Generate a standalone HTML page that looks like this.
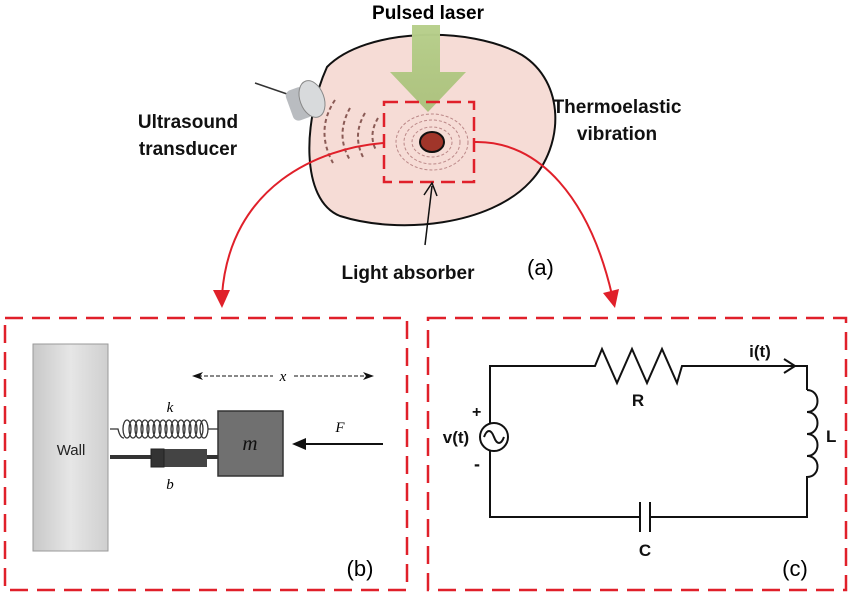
<html><body style="margin:0;background:#fff">
<svg width="850" height="595" viewBox="0 0 850 595" xmlns="http://www.w3.org/2000/svg" font-family="Liberation Sans, sans-serif">
<defs>
<linearGradient id="g" x1="0" y1="0" x2="0" y2="1"><stop offset="0" stop-color="#b9d08e"/><stop offset="1" stop-color="#9cbc6a" stop-opacity=".8"/></linearGradient>
<linearGradient id="w" x1="0" y1="0" x2="1" y2="0"><stop offset="0" stop-color="#c8c8c8"/><stop offset=".5" stop-color="#e6e6e6"/><stop offset="1" stop-color="#cfcfcf"/></linearGradient>
</defs>
<path d="M327,67 C365,28 470,25 522,55 C565,82 565,145 530,182 C490,225 400,235 340,216 C300,200 303,120 327,67 Z" fill="#f6dcd6" stroke="#111" stroke-width="2"/>
<path d="M412,25 H440 V72 H466 L428,112 L390,72 H412 Z" fill="url(#g)"/>
<text x="428" y="19" text-anchor="middle" font-weight="bold" font-size="19">Pulsed laser</text>
<g transform="translate(300,95)"><line x1="-45" y1="-12" x2="-10" y2="0" stroke="#333" stroke-width="1.5"/><rect x="-14" y="-8" width="20" height="32" rx="6" fill="#b9bcc0" transform="rotate(-20)"/><ellipse cx="12" cy="4" rx="12" ry="19" fill="#d8dadc" stroke="#888" transform="rotate(-20 12 4)"/></g>
<g fill="none" stroke="#8a5a55" stroke-width="2" stroke-dasharray="4 3">
<path d="M335,100 Q315,130 333,163"/><path d="M350,108 Q335,135 350,160"/><path d="M365,113 Q352,135 363,157"/><path d="M378,118 Q368,135 376,150"/>
</g>
<g fill="none" stroke="#b88" stroke-width="1" stroke-dasharray="3 2">
<ellipse cx="432" cy="142" rx="20" ry="15"/><ellipse cx="432" cy="142" rx="28" ry="22"/><ellipse cx="432" cy="142" rx="36" ry="28"/></g>
<ellipse cx="432" cy="142" rx="12" ry="10" fill="#a0352a" stroke="#111" stroke-width="2"/>
<rect x="384" y="102" width="90" height="80" fill="none" stroke="#e0202a" stroke-width="2.5" stroke-dasharray="14 7"/>
<line x1="425" y1="245" x2="432" y2="186" stroke="#111" stroke-width="1.5"/><path d="M424,195 L432,183 L437,196" fill="none" stroke="#111" stroke-width="1.5"/>
<path d="M383,143 C320,148 230,185 222,295" fill="none" stroke="#e0202a" stroke-width="2"/>
<path d="M213,290 L222,308 L230,290 Z" fill="#e0202a"/>
<path d="M474,142 C540,140 590,200 612,295" fill="none" stroke="#e0202a" stroke-width="2"/>
<path d="M603,293 L615,308 L619,289 Z" fill="#e0202a"/>
<g font-weight="bold" font-size="19" fill="#111">
<text x="188" y="128" text-anchor="middle">Ultrasound</text><text x="188" y="155" text-anchor="middle">transducer</text>
<text x="617" y="113" text-anchor="middle">Thermoelastic</text><text x="617" y="140" text-anchor="middle">vibration</text>
<text x="408" y="279" text-anchor="middle">Light absorber</text></g>
<text x="527" y="275" font-size="22">(a)</text>
<rect x="5" y="318" width="402" height="272" fill="none" stroke="#e0202a" stroke-width="2.5" stroke-dasharray="18 9"/>
<rect x="428" y="318" width="418" height="272" fill="none" stroke="#e0202a" stroke-width="2.5" stroke-dasharray="18 9"/>
<rect x="33" y="344" width="75" height="207" fill="url(#w)" stroke="#999"/>
<text x="71" y="455" text-anchor="middle" font-size="15" fill="#222">Wall</text>
<path d="M110,429 H118 Q120,438 124,438" fill="none" stroke="#333" stroke-width="1.3"/>
<g fill="none" stroke="#333" stroke-width="1.3">
<ellipse cx="127" cy="429" rx="4" ry="9"/><ellipse cx="133" cy="429" rx="4" ry="9"/><ellipse cx="139" cy="429" rx="4" ry="9"/><ellipse cx="145" cy="429" rx="4" ry="9"/><ellipse cx="151" cy="429" rx="4" ry="9"/><ellipse cx="157" cy="429" rx="4" ry="9"/><ellipse cx="163" cy="429" rx="4" ry="9"/><ellipse cx="169" cy="429" rx="4" ry="9"/><ellipse cx="175" cy="429" rx="4" ry="9"/><ellipse cx="181" cy="429" rx="4" ry="9"/><ellipse cx="187" cy="429" rx="4" ry="9"/><ellipse cx="193" cy="429" rx="4" ry="9"/><ellipse cx="199" cy="429" rx="4" ry="9"/><ellipse cx="204" cy="429" rx="4" ry="9"/>
<line x1="208" y1="429" x2="218" y2="429"/></g>
<line x1="110" y1="457" x2="218" y2="457" stroke="#333" stroke-width="4"/>
<rect x="151" y="449" width="56" height="18" fill="#444"/><rect x="151" y="449" width="13" height="18" fill="#333" stroke="#222"/>
<rect x="218" y="411" width="65" height="65" fill="#707070" stroke="#333" stroke-width="1.5"/>
<text x="250" y="450" text-anchor="middle" font-family="Liberation Serif, serif" font-style="italic" font-size="21" fill="#111">m</text>
<text x="170" y="412" text-anchor="middle" font-family="Liberation Serif, serif" font-style="italic" font-size="15">k</text>
<text x="170" y="489" text-anchor="middle" font-family="Liberation Serif, serif" font-style="italic" font-size="15">b</text>
<line x1="300" y1="444" x2="383" y2="444" stroke="#111" stroke-width="2"/><path d="M292,444 L306,438 L306,450 Z" fill="#111"/>
<text x="340" y="432" text-anchor="middle" font-family="Liberation Serif, serif" font-style="italic" font-size="15">F</text>
<line x1="198" y1="376" x2="273" y2="376" stroke="#111" stroke-dasharray="4 2"/><line x1="294" y1="376" x2="368" y2="376" stroke="#111" stroke-dasharray="4 2"/>
<path d="M192,376 L203,372 L200,376 L203,380 Z M374,376 L363,372 L366,376 L363,380 Z" fill="#111"/>
<text x="283" y="381" text-anchor="middle" font-family="Liberation Serif, serif" font-style="italic" font-size="15">x</text>
<text x="360" y="576" text-anchor="middle" font-size="22">(b)</text>
<g fill="none" stroke="#111" stroke-width="2">
<path d="M490,423 V366 H595 L602,349 L617,383 L632,349 L647,383 L662,349 L677,383 L682,366 H807 V390"/>
<path d="M807,390 c14,0 14,22 0,22 c14,0 14,22 0,22 c14,0 14,22 0,22 c14,0 14,21 0,21 V517 H650 M640,517 H490 V451"/>
<line x1="640" y1="502" x2="640" y2="532"/><line x1="650" y1="502" x2="650" y2="532"/>
<circle cx="494" cy="437" r="14"/><path d="M484,437 c3,-8 7,-8 10,0 c3,8 7,8 10,0"/>
<path d="M784,359 L795,366 L784,373"/>
</g>
<g font-weight="bold" font-size="17" fill="#111">
<text x="638" y="406" text-anchor="middle">R</text><text x="760" y="357" text-anchor="middle">i(t)</text>
<text x="826" y="442">L</text><text x="645" y="556" text-anchor="middle">C</text>
<text x="456" y="443" text-anchor="middle">v(t)</text><text x="472" y="417" font-size="16">+</text><text x="474" y="470" font-size="18">-</text></g>
<text x="795" y="576" text-anchor="middle" font-size="22">(c)</text>
</svg></body></html>
